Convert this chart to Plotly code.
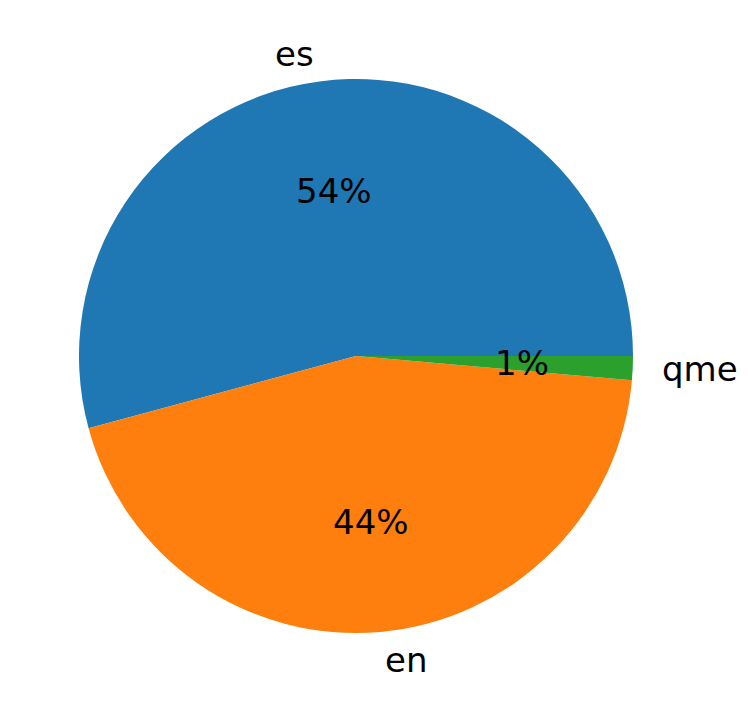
import math
import plotly.graph_objects as go

labels = ["es", "en", "qme"]
values = [54.2, 44.4, 1.4]
colors = ["#1f77b4", "#ff7f0e", "#2ca02c"]

W, H = 748, 713
OFF = 8  # page body margin
cx, cy_top, R = 356 - OFF, 356 - OFF, 277  # pixel centre (from top-left)
cy = H - cy_top  # centre from bottom

total = sum(values)
# plotly: counterclockwise puts first slice clockwise of the rotation line;
# shift so the first slice starts at 3 o'clock and runs counterclockwise
rotation = 90 - 360 * values[0] / total

fig = go.Figure(go.Pie(
    labels=labels, values=values, sort=False, direction="counterclockwise",
    rotation=rotation, textinfo="none", hoverinfo="label+percent",
    marker=dict(colors=colors, line=dict(width=0)),
    domain=dict(x=[(cx - R) / W, (cx + R) / W], y=[(cy - R) / H, (cy + R) / H]),
    showlegend=False,
))

start = 0.0
annotations = []
font = dict(family="DejaVu Sans", size=34, color="black")
for lab, v in zip(labels, values):
    frac = v / total
    mid = math.radians((start + frac / 2) * 360)
    start += frac
    c, s = math.cos(mid), math.sin(mid)
    annotations.append(dict(
        x=(cx + 1.1 * R * c) / W, y=(cy + 1.1 * R * s) / H, xref="paper", yref="paper",
        text=lab, showarrow=False, font=font,
        xanchor="left" if c > 0 else "right", yanchor="middle"))
    annotations.append(dict(
        x=(cx + 0.6 * R * c) / W, y=(cy + 0.6 * R * s) / H, xref="paper", yref="paper",
        text="%1.0f%%" % (frac * 100), showarrow=False, font=font,
        xanchor="center", yanchor="middle"))

fig.update_layout(
    width=W, height=H, margin=dict(l=0, r=0, t=0, b=0),
    paper_bgcolor="white", plot_bgcolor="white",
    annotations=annotations,
)
fig.write_html("out.html")
